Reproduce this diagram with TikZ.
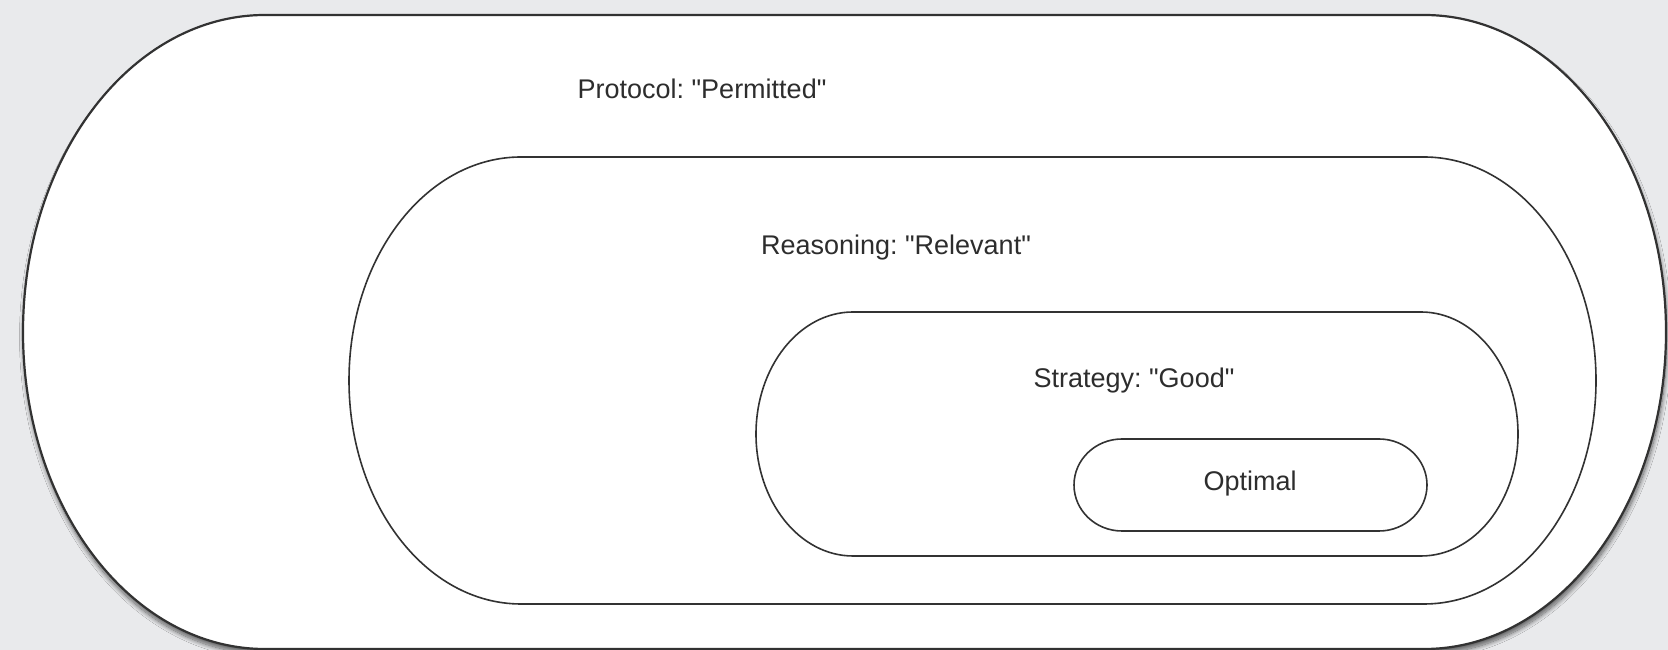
\documentclass[tikz,border=0pt]{standalone}
\usepackage{fontspec}
\newfontfamily\lblfont{Liberation Sans}
\usetikzlibrary{shadows.blur}
\frenchspacing
\definecolor{bgcol}{RGB}{233,234,236}
\definecolor{linecol}{RGB}{50,50,50}
\definecolor{txtcol}{RGB}{45,45,45}
% #2 left, #3 right, #4 top, #5 bottom, #6 horizontal radius
\newcommand\stadiumshape[6][]{%
  \draw[#1] ({#2+#6},#4) -- ({#3-#6},#4)
    arc[start angle=90,end angle=-90,x radius=#6pt,y radius={(#4-#5)/2*1pt}]
    -- ({#2+#6},#5)
    arc[start angle=270,end angle=90,x radius=#6pt,y radius={(#4-#5)/2*1pt}]
    -- cycle;}
\tikzset{
  outerline/.style={draw=linecol,line width=2.2pt,fill=white,
    blur shadow={shadow xshift=1pt,shadow yshift=-5pt,shadow blur radius=4.5pt,shadow blur steps=12,shadow opacity=60}},
  innerline/.style={draw=linecol,line width=1.6pt},
  lbl/.style={text=txtcol,font=\lblfont\fontsize{27}{32}\selectfont,inner sep=0pt}
}
\begin{document}
\begin{tikzpicture}[x=1pt,y=1pt]
\useasboundingbox (0,0) rectangle (1668,650);
\clip (0,0) rectangle (1668,650);
\fill[bgcol] (0,0) rectangle (1668,650);
\stadiumshape[outerline]{23}{1666}{635}{1}{242}
\stadiumshape[innerline]{349}{1596}{493}{46}{172}
\stadiumshape[innerline]{756}{1518}{338}{94}{97}
\stadiumshape[innerline]{1074}{1427}{211}{119}{48}
\node[lbl] (protocol) at (702,561) {Protocol: "Permitted"};
\node[lbl] (reasoning) at (896,402) {Reasoning: "Relevant"};
\node[lbl] (strategy) at (1134,269) {Strategy: "Good"};
\node[lbl] (optimal) at (1250,166) {Optimal};
\end{tikzpicture}
\end{document}
